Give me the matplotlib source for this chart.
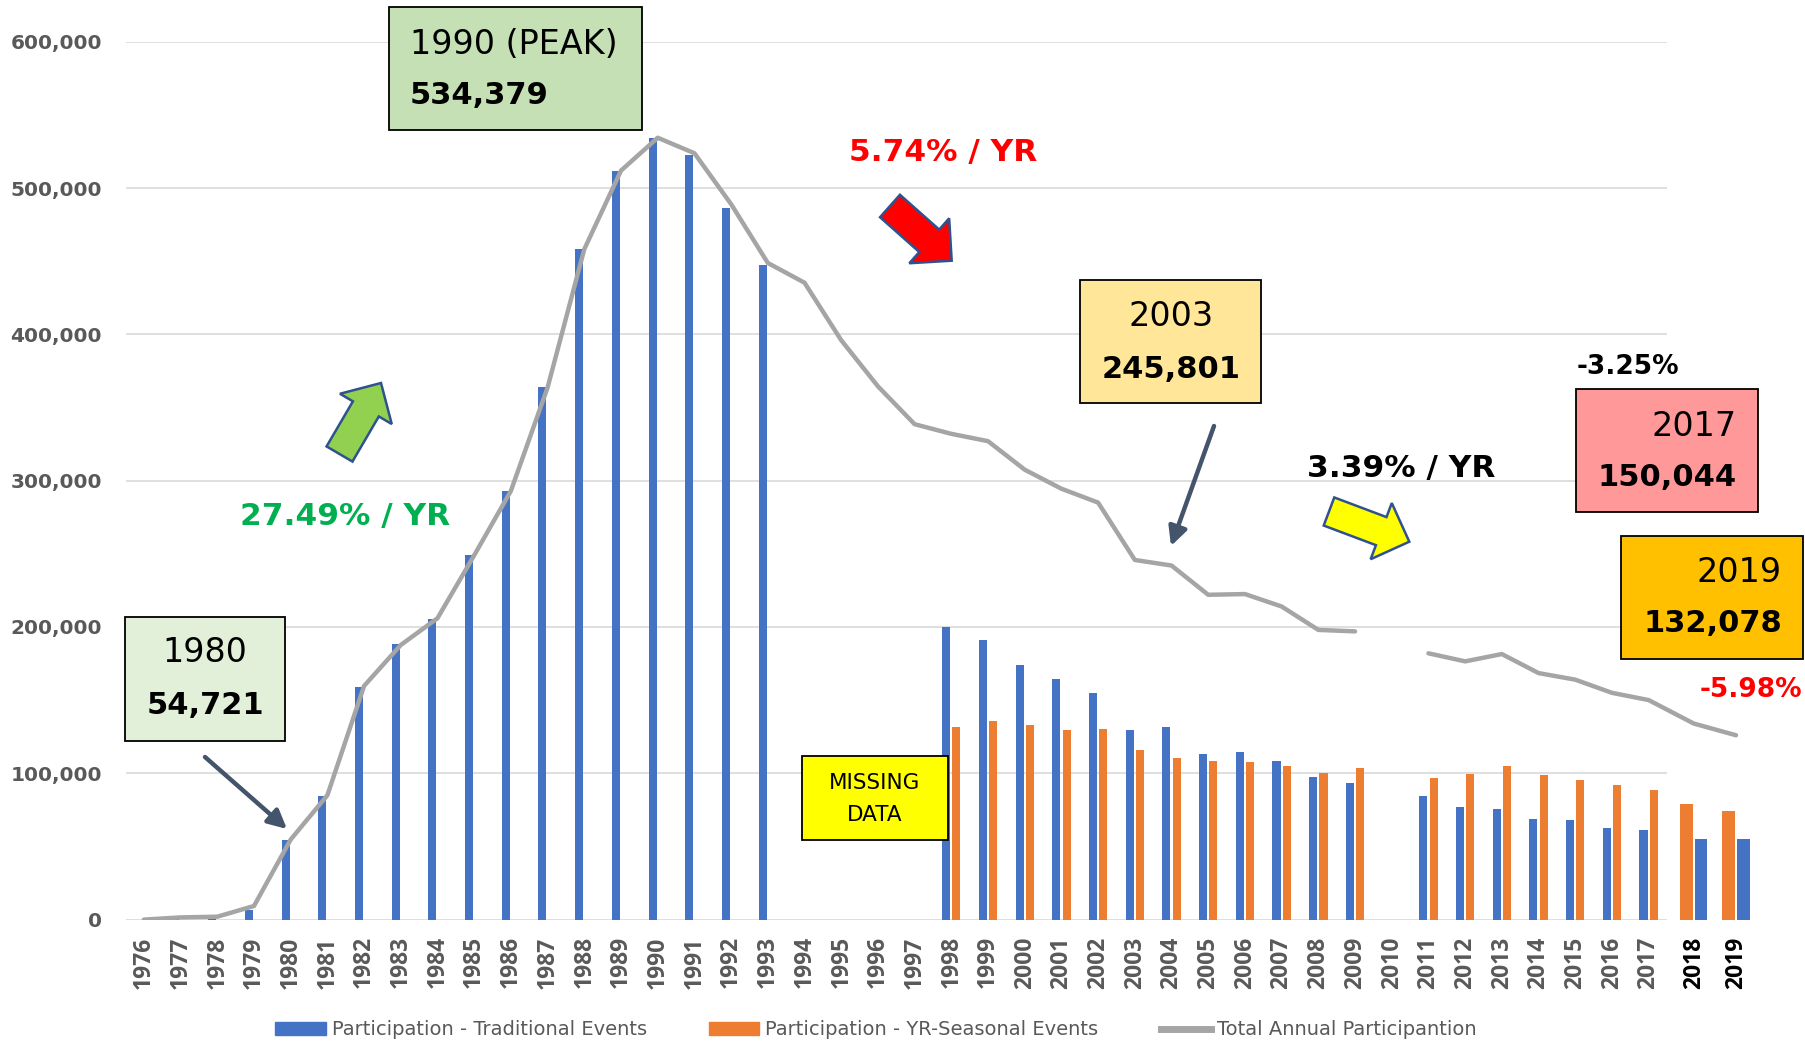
import numpy as np
import matplotlib.pyplot as plt
from matplotlib.patches import Rectangle, FancyArrow, Patch
from matplotlib.lines import Line2D

years = list(range(1976, 2020))
traditional = [0, 1500, 2000, 6600, 54721, 84700, 158800, 188600, 205500, 249000,
               293000, 363700, 458200, 511900, 534379, 522600, 486200, 447400,
               None, None, None, None,
               200200, 191100, 174000, 164700, 154900, 129600, 131600, 113000,
               114600, 108400, 97500, 93400,
               None,
               84500, 76800, 75800, 68800, 68100, 62400, 61200,
               55100, 55100]
seasonal = [None] * 22 + [131600, 135500, 132800, 129400, 130100, 115700, 110500,
                          108600, 107700, 105000, 100000, 103400,
                          None,
                          96800, 99300, 105000, 99000, 95200, 92000, 88400,
                          79000, 74200]
total = [0, 1500, 2000, 9300, 54721, 85000, 159700, 187700, 206000, 249000,
         293000, 363700, 458200, 511900, 534379, 523800, 489000, 448800,
         435300, 396000, 364500, 338600,
         332000, 327000, 307500, 294500, 285000, 245801, 242000, 222000,
         222500, 214000, 198000, 197000,
         None,
         182000, 176500, 181500, 168500, 164000, 155000, 150044,
         134000, 126000]

BLUE = '#4472C4'
ORANGE = '#ED7D31'
GRAY = '#A5A5A5'
GRID = '#D9D9D9'
TXT = '#595959'

def arr(v):
    return np.array([np.nan if x is None else x for x in v], dtype=float)

trad = arr(traditional)
seas = arr(seasonal)
tot = arr(total)

# 1976-2017 on the regular axis, 2018/2019 pasted on the right
pos = np.concatenate([np.arange(42), [42.23, 43.38]])
main = np.arange(44) < 42

fig = plt.figure(figsize=(18.06, 10.43), dpi=100)
ax = fig.add_axes([0.0695, 0.1183, 0.9145, 0.8417])
ax.set_xlim(-0.5, 44.5)
ax.set_ylim(0, 600000)

yt = np.arange(0, 600001, 100000)
ax.hlines(yt, -0.5, 41.5, color=GRID, lw=1.2, zorder=0)

m = main & ~np.isnan(trad)
ax.bar(pos[m] - 0.14, trad[m], width=0.22, color=BLUE, zorder=2)
m = main & ~np.isnan(seas)
ax.bar(pos[m] + 0.14, seas[m], width=0.22, color=ORANGE, zorder=2)
ax.bar(pos[~main] - 0.2, seas[~main], width=0.34, color=ORANGE, zorder=2)
ax.bar(pos[~main] + 0.2, trad[~main], width=0.34, color=BLUE, zorder=2)

ax.plot(pos, tot, color=GRAY, lw=3.2, solid_capstyle='round',
        solid_joinstyle='round', zorder=3)

for s in ax.spines.values():
    s.set_visible(False)
ax.set_yticks(yt)
ax.set_yticklabels([f'{v:,}' for v in yt], fontsize=14.5, fontweight='bold',
                   color=TXT, family='DejaVu Sans')
ax.set_xticks(pos)
ax.set_xticklabels([str(y) for y in years], rotation=90, fontsize=16.5,
                   fontweight='bold', color=TXT, family='Open Sans')
for lab in ax.get_xticklabels()[-2:]:
    lab.set_color('black')
ax.tick_params(axis='both', length=0)
ax.tick_params(axis='y', pad=17)
ax.tick_params(axis='x', pad=12)

# overlay in pixel coordinates for the callouts
ov = fig.add_axes([0, 0, 1, 1], zorder=5)
ov.set_xlim(0, 1806)
ov.set_ylim(1043, 0)
ov.axis('off')
ov.patch.set_alpha(0)

def box(x0, y0, x1, y1, color):
    ov.add_patch(Rectangle((x0, y0), x1 - x0, y1 - y0, facecolor=color,
                           edgecolor='black', lw=1.3))

def txt(x, y, s, size, ha='center', bold=False, color='black'):
    ov.text(x, y, s, fontsize=size, ha=ha, va='center', color=color,
            fontweight='bold' if bold else 'normal', family='DejaVu Sans')

box(389, 7, 642, 130, '#C5E0B4')
txt(410, 44, '1990 (PEAK)', 24, ha='left')
txt(410, 95, '534,379', 22, ha='left', bold=True)

box(125, 617, 285, 741, '#E2F0D9')
txt(205, 653, '1980', 24)
txt(205, 705, '54,721', 22, bold=True)

box(1080, 280, 1261, 403, '#FFE699')
txt(1171, 317, '2003', 24)
txt(1171, 369, '245,801', 22, bold=True)

box(1576, 389, 1758, 512, '#FF9999')
txt(1737, 426, '2017', 24, ha='right')
txt(1737, 477, '150,044', 22, ha='right', bold=True)

box(1621, 536, 1803, 659, '#FFC000')
txt(1782, 573, '2019', 24, ha='right')
txt(1782, 623, '132,078', 22, ha='right', bold=True)

box(802, 756, 948, 840, '#FFFF00')
txt(875, 783, 'MISSING', 15.5)
txt(875, 815, 'DATA', 15.5)

txt(345, 517, '27.49% / YR', 22.5, bold=True, color='#00B050')
txt(943, 153, '5.74% / YR', 22.5, bold=True, color='#FF0000')
txt(1307, 468, '3.39% / YR', 22.5, ha='left', bold=True)
txt(1577, 367, '-3.25%', 19, ha='left', bold=True)
txt(1802, 690, '-5.98%', 19, ha='right', bold=True, color='#FF0000')

def block(x0, y0, x1, y1, color):
    ov.add_patch(FancyArrow(x0, y0, x1 - x0, y1 - y0, width=30,
                            head_width=60, head_length=30,
                            length_includes_head=True, facecolor=color,
                            edgecolor='#2F528F', lw=1.8))

block(339.5, 454, 381, 383, '#92D050')
block(890, 206, 951.7, 260.7, '#FF0000')
block(1329, 511.5, 1409.3, 541.7, '#FFFF00')

for (x0, y0, x1, y1) in [(205, 757, 287, 829), (1214, 426, 1171, 546)]:
    ov.annotate('', xy=(x1, y1), xytext=(x0, y0),
                arrowprops=dict(arrowstyle='-|>', color='#44546A', lw=3.2,
                                mutation_scale=28, shrinkA=0, shrinkB=0))

handles = [Patch(color=BLUE), Patch(color=ORANGE),
           Line2D([], [], color=GRAY, lw=5)]
labels = ['Participation - Traditional Events',
          'Participation - YR-Seasonal Events',
          'Total Annual Participantion']
fig.legend(handles, labels, loc='center', bbox_to_anchor=(0.485, 0.0125),
           ncol=3, frameon=False, fontsize=14, handlelength=2.6,
           handletextpad=0.3, columnspacing=3.2, labelcolor=TXT)

fig.savefig('out.png', dpi=100)
